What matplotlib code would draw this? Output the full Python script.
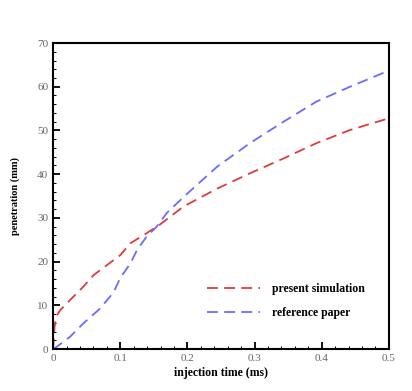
import matplotlib
matplotlib.use("Agg")
import matplotlib.pyplot as plt
from matplotlib.ticker import MultipleLocator, FuncFormatter

# present simulation (red)
sim_t = [0.0, 0.002, 0.005, 0.0104, 0.025, 0.045, 0.06, 0.08, 0.1, 0.115, 0.139, 0.159,
         0.194, 0.244, 0.293, 0.343, 0.392, 0.442, 0.5]
sim_p = [0.0, 5.0, 7.6, 8.9, 11.2, 14.3, 16.9, 19.2, 21.5, 24.2, 26.5, 28.5,
         32.6, 36.7, 40.2, 43.6, 47.1, 50.1, 52.8]

# reference paper (blue)
ref_t = [0.0, 0.005, 0.025, 0.045, 0.07, 0.09, 0.1, 0.115, 0.125, 0.139, 0.154, 0.169,
         0.184, 0.2, 0.244, 0.293, 0.343, 0.392, 0.442, 0.5]
ref_p = [0.0, 0.5, 2.8, 5.9, 9.3, 13.0, 16.3, 19.6, 22.7, 25.7, 28.0, 31.1,
         33.3, 35.6, 41.7, 47.1, 52.0, 56.6, 60.0, 63.7]

plt.rcParams["font.family"] = "Liberation Serif"

fig = plt.figure(figsize=(4.12, 3.91), dpi=100)
ax = fig.add_axes([0.129, 0.107, 0.815, 0.783])

ax.plot(sim_t, sim_p, color="#e03a3a", lw=1.3, dashes=(6, 3.5), label="present simulation")
ax.plot(ref_t, ref_p, color="#6b6bff", lw=1.3, dashes=(6, 3.5), label="reference paper")

ax.set_xlim(0, 0.5)
ax.set_ylim(0, 70)
ax.xaxis.set_major_locator(MultipleLocator(0.1))
ax.xaxis.set_minor_locator(MultipleLocator(0.02))
ax.yaxis.set_major_locator(MultipleLocator(10))
ax.yaxis.set_minor_locator(MultipleLocator(2))
ax.xaxis.set_major_formatter(FuncFormatter(lambda v, p: "0" if abs(v) < 1e-9 else f"{v:g}"))
ax.tick_params(which="both", direction="in", labelsize=8, labelcolor="#666666")
ax.tick_params(which="major", length=5, width=1.3)
ax.tick_params(which="minor", length=2.5, width=0.7)
for s in ax.spines.values():
    s.set_linewidth(1.5)

ax.set_xlabel("injection time (ms)", fontsize=8.5, fontweight="bold", labelpad=3)
ax.set_ylabel("penetration (mm)", fontsize=7.5, fontweight="bold", labelpad=12)

ax.legend(loc="lower right", bbox_to_anchor=(0.96, 0.065), frameon=False,
          handlelength=4.5, handletextpad=1.0, labelspacing=1.0,
          prop={"weight": "bold", "size": 8.5})

fig.savefig("out.png", dpi=100)
